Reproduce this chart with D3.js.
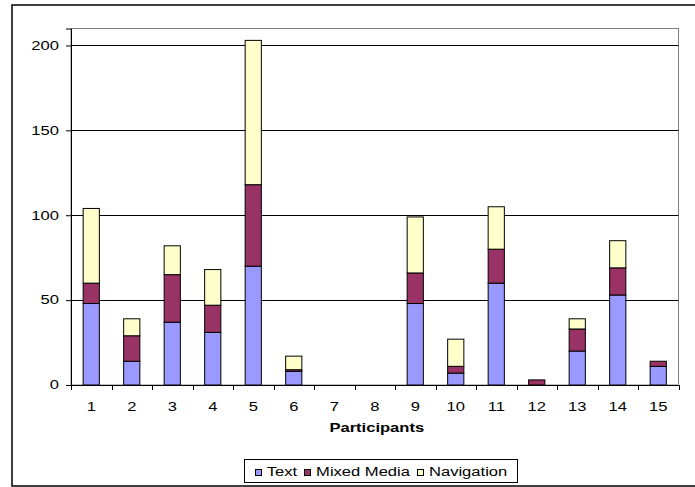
<!DOCTYPE html>
<html>
<head>
<meta charset="utf-8">
<script src="https://cdn.jsdelivr.net/npm/d3@7"></script>
<style>
  html, body { margin: 0; padding: 0; background: #fff; }
  svg { display: block; }
  text { font-family: "Liberation Sans", Arial, sans-serif; fill: #000; }
</style>
</head>
<body>
<svg id="chart" width="695" height="487"></svg>
<script>
// Participant categories along the x axis
const participants = ["1","2","3","4","5","6","7","8","9","10","11","12","13","14","15"];

// Counts per participant for each stacked series
const textValues       = [48, 14, 37, 31, 70, 8, 0, 0, 48, 7, 60, 0, 20, 53, 11];
const mixedMediaValues = [12, 15, 28, 16, 48, 1, 0, 0, 18, 4, 20, 3, 13, 16, 3];
const navigationValues = [44, 10, 17, 21, 85, 8, 0, 0, 33, 16, 25, 0, 6, 16, 0];

const seriesNames = ["Text", "Mixed Media", "Navigation"];
const yTicks = [0, 50, 100, 150, 200];
const yMax = 210;
const xTitle = "Participants";

const colors = { "Text": "#9999FF", "Mixed Media": "#993366", "Navigation": "#FFFFCC" };

// Wide, horizontally stretched lettering
const fontSize = 12;
const stretchX = 1.38;
function stretch(sel) {
  sel.each(function () {
    const t = d3.select(this);
    const x = +t.attr("x") || 0;
    const y = +t.attr("y") || 0;
    t.attr("x", 0).attr("y", 0)
     .attr("transform", `translate(${x},${y}) scale(${stretchX},1)`);
  });
}

// Build the rows for d3.stack from the series arrays
const rows = participants.map((p, i) => ({
  participant: p,
  "Text": textValues[i],
  "Mixed Media": mixedMediaValues[i],
  "Navigation": navigationValues[i]
}));

const svg = d3.select("#chart");

// Outer chart frame (open on the right)
svg.append("path")
  .attr("d", "M695,5 H12 V486 H695")
  .attr("fill", "none")
  .attr("stroke", "#000")
  .attr("stroke-width", 1.5);

const plot = { left: 71, top: 28.5, right: 678.5, bottom: 385 };

const x = d3.scaleBand()
  .domain(participants)
  .range([plot.left, plot.right])
  .paddingInner(0.6)
  .paddingOuter(0.3);

const xOuter = d3.scaleBand()
  .domain(participants)
  .range([plot.left, plot.right]);

const y = d3.scaleLinear()
  .domain([0, yMax])
  .range([plot.bottom, plot.top]);

// Plot area border
svg.append("rect")
  .attr("x", plot.left)
  .attr("y", plot.top)
  .attr("width", plot.right - plot.left)
  .attr("height", plot.bottom - plot.top)
  .attr("fill", "#fff")
  .attr("stroke", "#808080")
  .attr("stroke-width", 1);

// Horizontal gridlines
svg.append("g")
  .selectAll("line")
  .data(yTicks.filter(t => t > 0))
  .join("line")
  .attr("x1", plot.left)
  .attr("x2", plot.right)
  .attr("y1", d => Math.round(y(d)) + 0.5)
  .attr("y2", d => Math.round(y(d)) + 0.5)
  .attr("stroke", "#000")
  .attr("stroke-width", 1);

// Stacked bars
const stack = d3.stack().keys(seriesNames);
const layers = stack(rows);

svg.append("g")
  .selectAll("g")
  .data(layers)
  .join("g")
  .attr("fill", d => colors[d.key])
  .selectAll("rect")
  .data(d => d.filter(s => s[1] - s[0] > 0))
  .join("rect")
  .attr("x", d => x(d.data.participant))
  .attr("y", d => y(d[1]))
  .attr("width", x.bandwidth())
  .attr("height", d => y(d[0]) - y(d[1]))
  .attr("stroke", "#000")
  .attr("stroke-width", 1);

// Y axis
const yAxis = d3.axisLeft(y)
  .tickValues(yTicks)
  .tickSize(5)
  .tickPadding(7)
  .tickFormat(d3.format("d"));

const gy = svg.append("g")
  .attr("transform", `translate(${plot.left},0)`)
  .call(yAxis);
gy.select(".domain").attr("stroke", "#000");
gy.selectAll(".tick line").attr("stroke", "#000");
gy.selectAll(".tick text")
  .attr("font-size", fontSize)
  .attr("font-family", "Liberation Sans, Arial, sans-serif")
  .call(stretch);

// X axis: ticks sit between categories
const gx = svg.append("g")
  .attr("transform", `translate(0,${plot.bottom})`);
gx.append("line")
  .attr("x1", plot.left).attr("x2", plot.right)
  .attr("y1", 0.5).attr("y2", 0.5)
  .attr("stroke", "#000");
const boundaries = participants.map(p => xOuter(p)).concat([plot.right]);
gx.selectAll("line.tick")
  .data(boundaries)
  .join("line")
  .attr("class", "tick")
  .attr("x1", d => Math.round(d) + 0.5)
  .attr("x2", d => Math.round(d) + 0.5)
  .attr("y1", 0)
  .attr("y2", 5)
  .attr("stroke", "#000");
gx.selectAll("text.label")
  .data(participants)
  .join("text")
  .attr("class", "label")
  .attr("x", d => xOuter(d) + xOuter.bandwidth() / 2)
  .attr("y", 26)
  .attr("text-anchor", "middle")
  .attr("font-size", fontSize)
  .text(d => d)
  .call(stretch);

// X axis title
svg.append("text")
  .attr("x", (plot.left + plot.right) / 2 + 2)
  .attr("y", 432)
  .attr("text-anchor", "middle")
  .attr("font-size", fontSize)
  .attr("font-weight", "bold")
  .text(xTitle)
  .call(stretch);

// Legend
const legend = svg.append("g");
const legendBox = { x: 244.5, y: 459.5, w: 273, h: 23 };
legend.append("rect")
  .attr("x", legendBox.x).attr("y", legendBox.y)
  .attr("width", legendBox.w).attr("height", legendBox.h)
  .attr("fill", "#fff").attr("stroke", "#000");

const items = legend.selectAll("g.item")
  .data(seriesNames)
  .join("g")
  .attr("class", "item");
items.append("rect")
  .attr("width", 6).attr("height", 6)
  .attr("y", 469.5)
  .attr("fill", d => colors[d])
  .attr("stroke", "#000");
items.append("text")
  .attr("font-size", fontSize)
  .text(d => d);

// Lay the legend entries out from their measured text widths
const swatch = 6, gapAfterSwatch = 6, gapBetween = 7;
const widths = [];
items.select("text").each(function () { widths.push(this.getComputedTextLength() * stretchX); });
const total = d3.sum(widths) + seriesNames.length * (swatch + gapAfterSwatch) + (seriesNames.length - 1) * gapBetween;
let cx = legendBox.x + (legendBox.w - total) / 2;
items.each(function (d, i) {
  const g = d3.select(this);
  g.select("rect").attr("x", Math.round(cx) + 0.5);
  g.select("text")
    .attr("x", cx + swatch + gapAfterSwatch)
    .attr("y", 476)
    .call(stretch);
  cx += swatch + gapAfterSwatch + widths[i] + gapBetween;
});
</script>
</body>
</html>
